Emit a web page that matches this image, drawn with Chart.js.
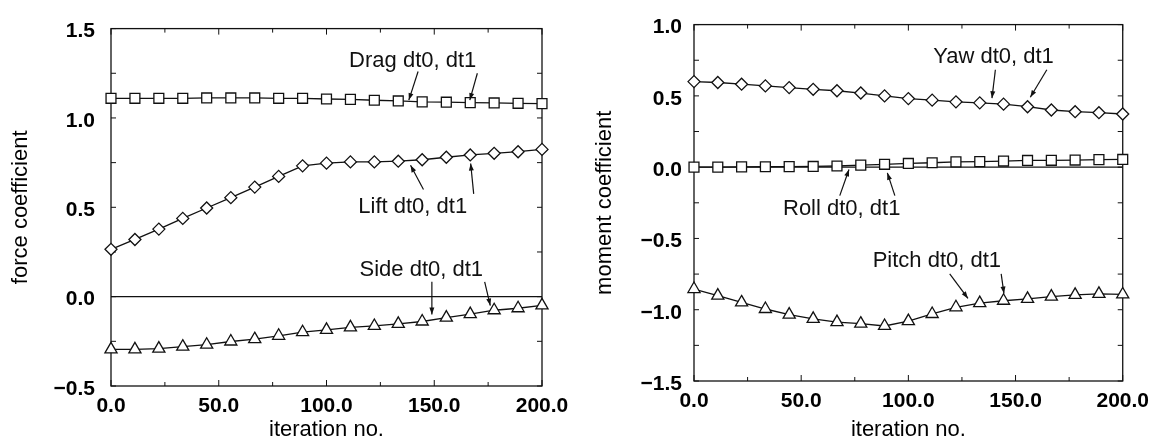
<!DOCTYPE html>
<html>
<head>
<meta charset="utf-8">
<script src="https://cdn.jsdelivr.net/npm/chart.js@4.4.1/dist/chart.umd.min.js"></script>
<style>
  html, body { margin: 0; padding: 0; background: #fff; }
  #wrap { display: flex; width: 1157px; height: 443px; }
  canvas { display: block; }
</style>
</head>
<body>
<div id="wrap">
  <canvas id="forceChart" width="578" height="443"></canvas>
  <canvas id="momentChart" width="579" height="443"></canvas>
</div>
<script>
// iteration numbers of the plotted samples
const iterations = [0, 11.1, 22.2, 33.3, 44.4, 55.6, 66.7, 77.8, 88.9, 100, 111.1, 122.2, 133.3, 144.4, 155.6, 166.7, 177.8, 188.9, 200];

// force coefficients
const drag = [1.11, 1.11, 1.11, 1.11, 1.112, 1.112, 1.112, 1.11, 1.11, 1.106, 1.104, 1.099, 1.095, 1.09, 1.088, 1.086, 1.084, 1.082, 1.08];
const lift = [0.265, 0.32, 0.378, 0.438, 0.496, 0.554, 0.613, 0.673, 0.732, 0.747, 0.754, 0.754, 0.758, 0.766, 0.78, 0.793, 0.802, 0.811, 0.824];
const side = [-0.295, -0.295, -0.291, -0.28, -0.269, -0.251, -0.238, -0.219, -0.199, -0.186, -0.172, -0.164, -0.152, -0.139, -0.117, -0.098, -0.076, -0.065, -0.049];

// moment coefficients
const yaw = [0.6, 0.594, 0.582, 0.57, 0.558, 0.546, 0.536, 0.52, 0.5, 0.481, 0.47, 0.458, 0.451, 0.442, 0.424, 0.401, 0.389, 0.382, 0.373];
const roll = [0.0, 0.0, 0.002, 0.003, 0.004, 0.005, 0.008, 0.014, 0.02, 0.026, 0.031, 0.037, 0.039, 0.043, 0.047, 0.048, 0.05, 0.053, 0.054];
const pitch = [-0.855, -0.901, -0.949, -0.995, -1.034, -1.064, -1.087, -1.098, -1.114, -1.08, -1.03, -0.983, -0.954, -0.937, -0.924, -0.908, -0.896, -0.889, -0.893];

// axis ticks
const xTicks = [0, 50, 100, 150, 200];
const forceTicks = [-0.5, 0.0, 0.5, 1.0, 1.5];
const momentTicks = [-1.5, -1.0, -0.5, 0.0, 0.5, 1.0];

// text labels with arrows, in data coordinates
const forceNotes = [
  { text: 'Drag dt0, dt1', x: 140, y: 1.32, arrows: [[142.5, 1.26, 138.2, 1.10], [170, 1.25, 166.5, 1.10]] },
  { text: 'Lift dt0, dt1', x: 140, y: 0.50, arrows: [[145, 0.60, 139, 0.735], [168.3, 0.575, 166.9, 0.745]] },
  { text: 'Side dt0, dt1', x: 144, y: 0.15, arrows: [[148.9, 0.083, 148.9, -0.10], [173.4, 0.083, 176, -0.05]] }
];
const momentNotes = [
  { text: 'Yaw dt0, dt1', x: 139.7, y: 0.776, arrows: [[140.6, 0.683, 139, 0.484], [164.6, 0.683, 156.9, 0.49]] },
  { text: 'Roll dt0, dt1', x: 68.9, y: -0.291, arrows: [[68, -0.2, 72.3, -0.016], [93.7, -0.2, 90.2, -0.04]] },
  { text: 'Pitch dt0, dt1', x: 113.3, y: -0.658, arrows: [[119.3, -0.749, 127.8, -0.921], [143.3, -0.749, 144.6, -0.887]] }
];

const FONT = '"Liberation Sans", Arial, Helvetica, sans-serif';
Chart.defaults.font.family = FONT;
Chart.defaults.color = '#000';

function fmt(v) {
  const s = Math.abs(v).toFixed(1);
  return v < -1e-9 ? '\u2212' + s : s;
}

function series(values, style, radius) {
  return {
    data: values.map((v, i) => ({ x: iterations[i], y: v })),
    pointStyle: style,
    pointRadius: radius,
    pointBackgroundColor: '#fff',
    pointBorderColor: '#111',
    pointBorderWidth: 1.3,
    borderColor: '#111',
    borderWidth: 1.3,
    tension: 0,
    clip: false
  };
}

// frame, inward ticks and zero line
const framePlugin = {
  id: 'frame',
  beforeDatasetsDraw(chart, args, opts) {
    const { ctx, chartArea: a, scales: { x, y } } = chart;
    ctx.save();
    ctx.strokeStyle = '#111';
    ctx.lineWidth = 1.3;
    ctx.strokeRect(a.left, a.top, a.right - a.left, a.bottom - a.top);

    // zero line
    const y0 = y.getPixelForValue(0);
    ctx.beginPath();
    ctx.moveTo(a.left, y0);
    ctx.lineTo(a.right, y0);
    ctx.stroke();

    ctx.lineWidth = 1;
    for (let v = x.min; v <= x.max + 1e-6; v += opts.xMinor) {
      const px = x.getPixelForValue(v);
      const len = Math.abs(v % opts.xMajor) < 1e-6 ? 6 : 4;
      ctx.beginPath();
      ctx.moveTo(px, a.bottom); ctx.lineTo(px, a.bottom - len);
      ctx.moveTo(px, a.top); ctx.lineTo(px, a.top + len);
      ctx.stroke();
    }
    for (let v = y.min; v <= y.max + 1e-6; v += opts.yMinor) {
      const py = y.getPixelForValue(v);
      ctx.beginPath();
      ctx.moveTo(a.left, py); ctx.lineTo(a.left + 5, py);
      ctx.moveTo(a.right, py); ctx.lineTo(a.right - 5, py);
      ctx.stroke();
    }
    ctx.restore();
  }
};

// labels with arrows
const notesPlugin = {
  id: 'notes',
  afterDatasetsDraw(chart, args, opts) {
    const { ctx, scales: { x, y } } = chart;
    ctx.save();
    ctx.fillStyle = '#111';
    ctx.strokeStyle = '#111';
    ctx.lineWidth = 1.2;
    ctx.font = '22px ' + FONT;
    ctx.textAlign = 'center';
    ctx.textBaseline = 'middle';
    opts.notes.forEach(n => {
      ctx.fillText(n.text, x.getPixelForValue(n.x), y.getPixelForValue(n.y));
      n.arrows.forEach(([x0, y0, x1, y1]) => {
        const sx = x.getPixelForValue(x0), sy = y.getPixelForValue(y0);
        const ex = x.getPixelForValue(x1), ey = y.getPixelForValue(y1);
        const ang = Math.atan2(ey - sy, ex - sx);
        ctx.beginPath();
        ctx.moveTo(sx, sy);
        ctx.lineTo(ex, ey);
        ctx.stroke();
        const hl = 7, hw = 2.5;
        ctx.beginPath();
        ctx.moveTo(ex, ey);
        ctx.lineTo(ex - hl * Math.cos(ang) + hw * Math.sin(ang), ey - hl * Math.sin(ang) - hw * Math.cos(ang));
        ctx.lineTo(ex - hl * Math.cos(ang) - hw * Math.sin(ang), ey - hl * Math.sin(ang) + hw * Math.cos(ang));
        ctx.closePath();
        ctx.fill();
      });
    });
    ctx.restore();
  }
};

function makeChart(id, cfg) {
  const ctx = document.getElementById(id).getContext('2d');
  return new Chart(ctx, {
    type: 'line',
    data: { datasets: cfg.datasets },
    plugins: [framePlugin, notesPlugin],
    options: {
      responsive: false,
      animation: false,
      layout: { padding: cfg.padding },
      plugins: {
        legend: { display: false },
        tooltip: { enabled: false },
        frame: { xMinor: 25, xMajor: 50, yMinor: 0.25 },
        notes: { notes: cfg.notes }
      },
      scales: {
        x: {
          type: 'linear',
          min: 0, max: 200,
          grid: { display: false, drawTicks: false },
          border: { display: false },
          afterBuildTicks: s => { s.ticks = xTicks.map(v => ({ value: v })); },
          ticks: { callback: v => v.toFixed(1), font: { size: 21, weight: 'bold' }, padding: 8, maxRotation: 0 },
          title: { display: true, text: 'iteration no.', font: { size: 22 }, padding: { top: 0, bottom: 0 } },
          afterFit: s => { s.height = cfg.xHeight; }
        },
        y: {
          type: 'linear',
          min: cfg.yTicks[0], max: cfg.yTicks[cfg.yTicks.length - 1],
          grid: { display: false, drawTicks: false },
          border: { display: false },
          afterBuildTicks: s => { s.ticks = cfg.yTicks.map(v => ({ value: v })); },
          ticks: { callback: v => fmt(v), font: { size: 21, weight: 'bold' }, padding: cfg.yPad, labelOffset: 3 },
          title: { display: true, text: cfg.yTitle, font: { size: 22 }, padding: { top: cfg.titlePad, bottom: 0 } },
          afterFit: s => { s.width = cfg.yWidth; }
        }
      }
    }
  });
}

makeChart('forceChart', {
  datasets: [series(drag, 'rect', 7), series(lift, 'rectRot', 6), series(side, 'triangle', 7)],
  notes: forceNotes,
  yTicks: forceTicks,
  yTitle: 'force coefficient',
  padding: { top: 23, right: 36, bottom: 0, left: 0 },
  xHeight: 57, yWidth: 111, yPad: 16, titlePad: 8
});

makeChart('momentChart', {
  datasets: [series(yaw, 'rectRot', 6), series(roll, 'rect', 7), series(pitch, 'triangle', 7)],
  notes: momentNotes,
  yTicks: momentTicks,
  yTitle: 'moment coefficient',
  padding: { top: 18, right: 30, bottom: 0, left: 0 },
  xHeight: 62, yWidth: 116, yPad: 12, titlePad: 14
});
</script>
</body>
</html>
